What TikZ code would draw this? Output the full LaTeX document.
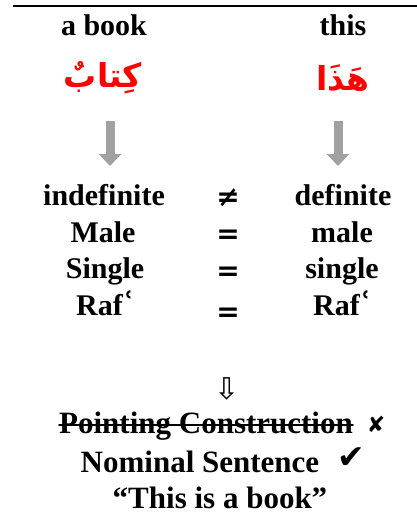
\documentclass[tikz,border=0pt]{standalone}
\usepackage{fontspec}
\setmainfont{Liberation Serif}
\newfontfamily\arabicfont[Script=Arabic]{DejaVu Sans}
\newfontfamily\symfont{DejaVu Sans}
\TeXXeTstate=1
\usetikzlibrary{arrows.meta,positioning}
\newcommand{\ayn}{{\symfont\bfseries\raisebox{2pt}{ʿ}}}

\begin{document}
\begin{tikzpicture}[x=1pt,y=-1pt,line join=round,line cap=round,
  word/.style={font=\fontsize{30}{36}\selectfont\bfseries,inner sep=0pt,anchor=base},
  bigword/.style={word,font=\fontsize{31}{36}\selectfont\bfseries},
  arab/.style={font=\fontsize{33}{40}\selectfont\arabicfont\bfseries,text=red,inner sep=0pt},
  rel/.style={font=\fontsize{28}{34}\selectfont\symfont\bfseries,inner sep=0pt},
  mark/.style={font=\fontsize{#1}{#1}\selectfont\symfont,inner sep=0pt},
  greyarrow/.style={draw=black!37,line width=9pt,line cap=butt,-{Triangle[width=22pt,length=12pt]}}]
  \useasboundingbox (0,0) rectangle (417,515);
  \draw[line width=2pt,line cap=butt] (13,6) -- (417,6);

  % heading words
  \node[word] (abook) at (104,35) {a book};
  \node[word] (this) at (343,35) {this};
  \node[arab] (kitab) at (103,78) {\beginR كِتابٌ\endR};
  \node[arab] (hadha) at (343,78) {\beginR هَذَا\endR};

  \coordinate (ltop) at (110,121);
  \coordinate (lbot) at (110,166);
  \coordinate (rtop) at (338,121);
  \coordinate (rbot) at (338,166);
  \draw[greyarrow] (ltop) -- (lbot);
  \draw[greyarrow] (rtop) -- (rbot);

  % comparison
  \node[word] (indef) at (104,205) {indefinite};
  \node[rel] (neq) at (228,198) {≠};
  \node[word] (def) at (343,205) {definite};
  \node[word] (male) at (103,242) {Male};
  \node[rel] (eqa) at (228,237) {=};
  \node[word] (malb) at (342,242) {male};
  \node[word] (sinA) at (105,278) {Single};
  \node[rel] (eqb) at (228,274) {=};
  \node[word] (sinB) at (342,278) {single};
  \node[word] (rafA) at (105,315) {Raf\ayn};
  \node[rel] (eqc) at (228,315) {=};
  \node[word] (rafB) at (342,315) {Raf\ayn};

  % result
  \node[mark=30] (down) at (227,389) {⇩};
  \node[bigword] (pc) at (206,433) {Pointing Construction};
  \draw[line width=1.6pt] ([yshift=8pt]pc.base west) -- ([yshift=8pt]pc.base east);
  \node[mark=22] (cross) at (376,424) {✘};
  \node[mark=33] (tick) at (351,458) {✔};
  \node[bigword] (ns) at (200,472) {Nominal Sentence};
  \node[bigword] (book) at (220,508) {“This is a book”};
\end{tikzpicture}
\end{document}
